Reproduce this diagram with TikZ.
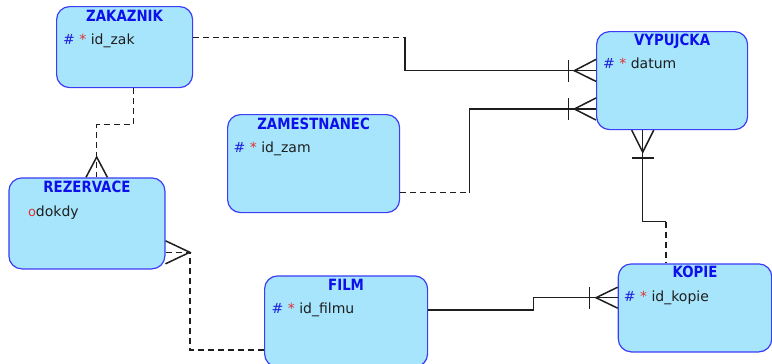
\documentclass[tikz,border=0pt]{standalone}
\usepackage{fontspec}
\setmainfont{DejaVu Sans}
\newfontfamily\ttlfont[FakeStretch=0.86]{DejaVu Sans}
\usetikzlibrary{calc}
\definecolor{entfill}{RGB}{166,229,252}
\definecolor{entdraw}{RGB}{60,60,245}
\definecolor{ttlc}{RGB}{15,15,235}
\definecolor{hashc}{RGB}{30,30,220}
\definecolor{starc}{RGB}{225,50,50}
\definecolor{attrc}{RGB}{30,30,30}
\definecolor{linec}{RGB}{30,30,30}
\newcommand{\pkmark}{{\color{hashc}\#}\ {\color{starc}*}\ }
\newcommand{\optmark}{{\color{starc}\fontsize{13}{14}\selectfont o}}
\tikzset{
  entity/.style={draw=entdraw, fill=entfill, line width=1.2pt, rounded corners=13pt, anchor=north west, inner sep=0pt},
  ttl/.style={font=\ttlfont\bfseries\fontsize{15.5}{17}\selectfont, text=ttlc, inner sep=0pt, anchor=base},
  attr/.style={font=\fontsize{14}{16}\selectfont, text=attrc, anchor=base west, inner sep=0pt},
  conn/.style={draw=linec, line width=1.5pt},
  opt/.style={conn, dash pattern=on 6pt off 4pt}
}
\begin{document}
\begin{tikzpicture}[x=1pt,y=-1pt]
\useasboundingbox (0,0) rectangle (772,364);
% entities
\node[entity, minimum width=136pt, minimum height=81pt] (zak) at (56,6) {};
\node[entity, minimum width=172pt, minimum height=98pt] (zam) at (227,114) {};
\node[entity, minimum width=151pt, minimum height=98pt] (vyp) at (596,31) {};
\node[entity, minimum width=156pt, minimum height=91pt] (rez) at (8.3,177.3) {};
\node[entity, minimum width=163pt, minimum height=91pt] (film) at (264,275.3) {};
\node[entity, minimum width=153.5pt, minimum height=88pt] (kop) at (617.7,263.3) {};
% titles
\node[ttl] (zakT) at ($(zak.north)+(0,15.2)$) {ZAKAZNIK};
\node[ttl] (zamT) at ($(zam.north)+(0,15)$) {ZAMESTNANEC};
\node[ttl] (vypT) at ($(vyp.north)+(0,14.5)$) {VYPUJCKA};
\node[ttl] (rezT) at ($(rez.north)+(0,14.8)$) {REZERVACE};
\node[ttl] (filmT) at ($(film.north)+(0,14.8)$) {FILM};
\node[ttl] (kopT) at ($(kop.north)+(0,14.2)$) {KOPIE};
% attributes
\node[attr] (zakA) at ($(zak.north west)+(7,39)$) {\pkmark id\_zak};
\node[attr] (zamA) at ($(zam.north west)+(6.5,38)$) {\pkmark id\_zam};
\node[attr] (vypA) at ($(vyp.north west)+(7,37.3)$) {\pkmark datum};
\node[attr] (rezA) at ($(rez.north west)+(19.5,39)$) {\optmark dokdy};
\node[attr] (filmA) at ($(film.north west)+(7.5,38)$) {\pkmark id\_filmu};
\node[attr] (kopA) at ($(kop.north west)+(6,37.7)$) {\pkmark id\_kopie};
% C1 ZAKAZNIK -> VYPUJCKA
\coordinate (c1a) at ($(zak.north east)+(0,31.3)$);
\coordinate (c1b) at ($(c1a)+(212,0)$);
\coordinate (c1z) at ($(vyp.north west)+(0,39.7)$);
\draw[opt] (c1a) -- (c1b);
\draw[conn] (c1b) |- (c1z);
\draw[conn] ($(c1z)+(0,-11.3)$) -- ($(c1z)+(-21.7,0)$) -- ($(c1z)+(0,10.7)$);
\draw[conn] ($(c1z)+(-27.7,-11)$) -- ($(c1z)+(-27.7,11)$);
% C2 ZAMESTNANEC -> VYPUJCKA
\coordinate (c2a) at ($(zam.north east)+(0,78.7)$);
\coordinate (c2b) at ($(c2a)+(69.3,0)$);
\coordinate (c2z) at ($(vyp.north west)+(0,78)$);
\draw[opt] (c2a) -- (c2b);
\draw[conn] (c2b) |- (c2z);
\draw[conn] ($(c2z)+(0,-11)$) -- ($(c2z)+(-21.7,0)$) -- ($(c2z)+(0,11)$);
\draw[conn] ($(c2z)+(-27.7,-11)$) -- ($(c2z)+(-27.7,11)$);
% C3 VYPUJCKA -> KOPIE
\coordinate (c3a) at ($(vyp.south west)+(46.7,0)$);
\coordinate (c3b) at ($(c3a)+(0,91.3)$);
\coordinate (c3z) at ($(kop.north west)+(48.3,0)$);
\coordinate (c3c) at (c3b -| c3z);
\draw[conn] (c3a) -- (c3b) -- (c3c);
\draw[opt] (c3c) -- (c3z);
\draw[conn] ($(c3a)+(-11,0)$) -- ($(c3a)+(0,22)$) -- ($(c3a)+(11,0)$);
\draw[conn] ($(c3a)+(-11,28)$) -- ($(c3a)+(11,28)$);
% C4 FILM -> KOPIE
\coordinate (c4a) at ($(film.north east)+(0,34.7)$);
\coordinate (c4b) at ($(c4a)+(105.4,0)$);
\coordinate (c4z) at ($(kop.north west)+(0,34.4)$);
\draw[conn] (c4a) -- (c4b) |- (c4z);
\draw[conn] ($(c4z)+(0,-10.5)$) -- ($(c4z)+(-21.7,0)$) -- ($(c4z)+(0,10.5)$);
\draw[conn] ($(c4z)+(-28,-11)$) -- ($(c4z)+(-28,11)$);
% C5 REZERVACE -> FILM
\coordinate (c5a) at ($(rez.north east)+(0,75)$);
\coordinate (c5b) at ($(c5a)+(24.3,0)$);
\coordinate (c5z) at ($(film.north west)+(0,74.7)$);
\draw[opt] (c5a) -- (c5b) |- (c5z);
\draw[conn] ($(c5a)+(0,-11.5)$) -- (c5b) -- ($(c5a)+(0,11.5)$);
% C6 ZAKAZNIK -> REZERVACE
\coordinate (c6a) at ($(zak.south west)+(77.3,0)$);
\coordinate (c6b) at ($(c6a)+(0,36.3)$);
\coordinate (c6z) at ($(rez.north west)+(88.4,0)$);
\draw[opt] (c6a) -- (c6b) -| (c6z);
\draw[conn] ($(c6z)+(-10.7,0)$) -- ($(c6z)+(0,-20.3)$) -- ($(c6z)+(10.7,0)$);
\end{tikzpicture}
\end{document}
